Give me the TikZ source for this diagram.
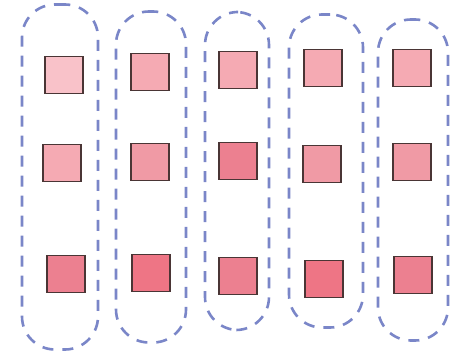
\documentclass[tikz,border=0pt]{standalone}
\begin{document}
\begin{tikzpicture}[x=1pt,y=-1pt,
  lane/.style={draw=lanecol, line width=2.6pt, dash pattern=on 11pt off 9pt, rounded corners=33pt, inner sep=0pt},
  cell/.style={draw=cellborder, line width=1.6pt, minimum width=38pt, minimum height=37pt, inner sep=0pt}]
\definecolor{lanecol}{HTML}{7A86C8}
\definecolor{cellborder}{HTML}{4A3535}
\definecolor{pA}{HTML}{F9C2C9}
\definecolor{pB}{HTML}{F5AAB3}
\definecolor{pC}{HTML}{F09AA5}
\definecolor{pD}{HTML}{EC8090}
\definecolor{pE}{HTML}{EE7585}
\useasboundingbox[fill=white] (0,0) rectangle (452,353);
% lanes
\node[lane, minimum width=76pt, minimum height=345pt] (l1) at (60,177) {};
\node[lane, minimum width=70pt, minimum height=331pt] (l2) at (151,177) {};
\node[lane, minimum width=64pt, minimum height=318pt] (l3) at (237,171) {};
\node[lane, minimum width=74pt, minimum height=313pt] (l4) at (326,171) {};
\node[lane, minimum width=70pt, minimum height=321pt] (l5) at (413,180) {};
% row 1
\node[cell, fill=pA] (a1) at (64,75) {};
\node[cell, fill=pB] (a2) at (150,72) {};
\node[cell, fill=pB] (a3) at (238,70) {};
\node[cell, fill=pB] (a4) at (323,68) {};
\node[cell, fill=pB] (a5) at (412,68) {};
% row 2
\node[cell, fill=pB] (b1) at (62,163) {};
\node[cell, fill=pC] (b2) at (150,162) {};
\node[cell, fill=pD] (b3) at (238,161) {};
\node[cell, fill=pC] (b4) at (322,164) {};
\node[cell, fill=pC] (b5) at (412,162) {};
% row 3
\node[cell, fill=pD] (c1) at (66,274) {};
\node[cell, fill=pE] (c2) at (151,273) {};
\node[cell, fill=pD] (c3) at (238,276) {};
\node[cell, fill=pE] (c4) at (324,279) {};
\node[cell, fill=pD] (c5) at (413,275) {};
\end{tikzpicture}
\end{document}
